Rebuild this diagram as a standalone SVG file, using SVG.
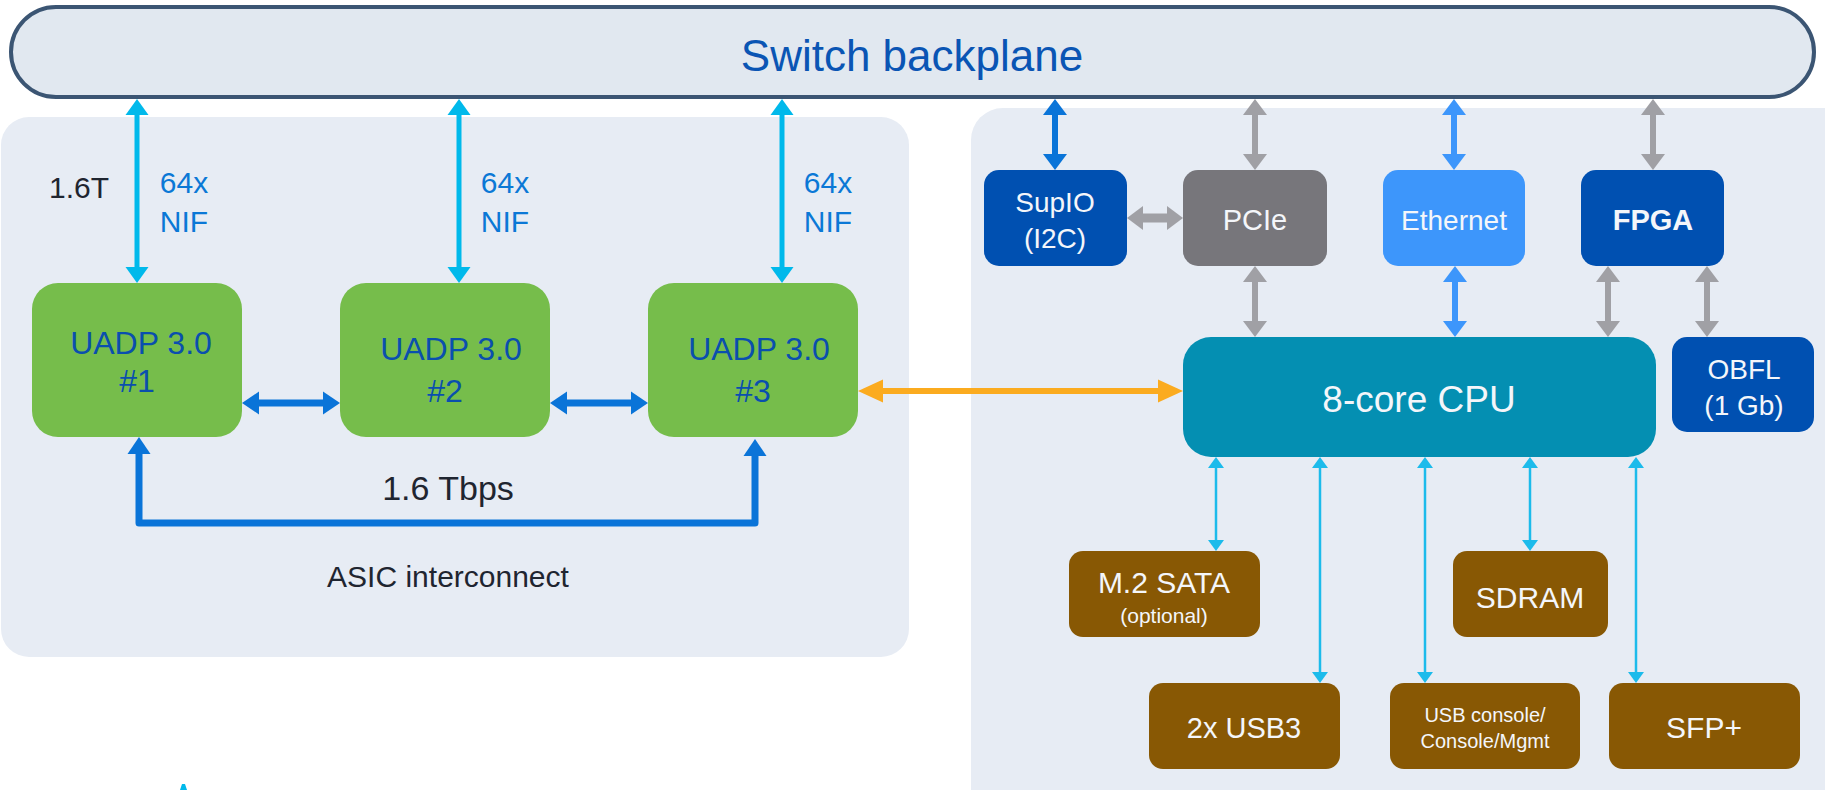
<svg xmlns="http://www.w3.org/2000/svg" width="1825" height="790" viewBox="0 0 1825 790">
<style>
text{font-family:"Liberation Sans",Arial,sans-serif;text-anchor:middle}
.panel{fill:#e7ecf4}
.uadp{fill:#76bd4b}
.uadp-t{fill:#0a4fae;font-size:32px}
.dk{fill:#0050b1}
.brown{fill:#885804}
.wt{fill:#f4f6fa}
.lbl{fill:#1f2530}
.nif{fill:#0b78d6;font-size:30px}
.c-cyan{stroke:#00b9eb;stroke-width:5;fill:none}
.c-blue{stroke:#0a74d8;stroke-width:7;fill:none;stroke-linejoin:round}
.c-blue2{stroke:#0a74d8;stroke-width:6;fill:none}
.c-gray{stroke:#a0a0a5;stroke-width:6;fill:none}
.c-grayh{stroke:#a0a0a5;stroke-width:9;fill:none}
.c-eth{stroke:#3d96fb;stroke-width:6;fill:none}
.c-orange{stroke:#fbab1f;stroke-width:6;fill:none}
.c-thin{stroke:#1cbbeb;stroke-width:2.5;fill:none}
</style>
<defs>
<marker id="aCyan" markerUnits="userSpaceOnUse" markerWidth="30" markerHeight="30" refX="0" refY="0" orient="auto-start-reverse" overflow="visible"><path d="M-1,-11.5 L15,0 L-1,11.5z" fill="#00b9eb"/></marker>
<marker id="aBlue" markerUnits="userSpaceOnUse" markerWidth="30" markerHeight="30" refX="0" refY="0" orient="auto-start-reverse" overflow="visible"><path d="M-1,-11.5 L16,0 L-1,11.5z" fill="#0a74d8"/></marker>
<marker id="aBlue2" markerUnits="userSpaceOnUse" markerWidth="30" markerHeight="30" refX="0" refY="0" orient="auto-start-reverse" overflow="visible"><path d="M-1,-12 L15,0 L-1,12z" fill="#0a74d8"/></marker>
<marker id="aGray" markerUnits="userSpaceOnUse" markerWidth="30" markerHeight="30" refX="0" refY="0" orient="auto-start-reverse" overflow="visible"><path d="M-1,-12 L15,0 L-1,12z" fill="#a0a0a5"/></marker>
<marker id="aEth" markerUnits="userSpaceOnUse" markerWidth="30" markerHeight="30" refX="0" refY="0" orient="auto-start-reverse" overflow="visible"><path d="M-1,-12 L15,0 L-1,12z" fill="#3d96fb"/></marker>
<marker id="aOrange" markerUnits="userSpaceOnUse" markerWidth="30" markerHeight="30" refX="0" refY="0" orient="auto-start-reverse" overflow="visible"><path d="M-1,-11.5 L24,0 L-1,11.5z" fill="#fbab1f"/></marker>
<marker id="aThin" markerUnits="userSpaceOnUse" markerWidth="20" markerHeight="20" refX="0" refY="0" orient="auto-start-reverse" overflow="visible"><path d="M-1,-8 L10,0 L-1,8z" fill="#1cbbeb"/></marker>
</defs>

<g id="backplane">
<rect x="11" y="7" width="1803" height="90" rx="45" fill="#e1e8f0" stroke="#3b5573" stroke-width="4"/>
<text x="912" y="71" style="font-size:44px;fill:#0a55b4">Switch backplane</text>
</g>

<g id="asic-panel">
<rect class="panel" x="1" y="117" width="908" height="540" rx="28"/>
<text class="lbl" x="79" y="198" style="font-size:30px">1.6T</text>
<text class="lbl" x="448" y="500" style="font-size:34px">1.6 Tbps</text>
<text class="lbl" x="448" y="587" style="font-size:30px">ASIC interconnect</text>
</g>

<g id="sup-panel">
<rect class="panel" x="971" y="108" width="900" height="720" rx="32"/>
</g>

<g id="connectors">
<line class="c-cyan" x1="137" y1="114" x2="137" y2="268" marker-start="url(#aCyan)" marker-end="url(#aCyan)"/>
<line class="c-cyan" x1="459" y1="114" x2="459" y2="268" marker-start="url(#aCyan)" marker-end="url(#aCyan)"/>
<line class="c-cyan" x1="782" y1="114" x2="782" y2="268" marker-start="url(#aCyan)" marker-end="url(#aCyan)"/>
<line class="c-blue" x1="258" y1="403" x2="324" y2="403" marker-start="url(#aBlue)" marker-end="url(#aBlue)"/>
<line class="c-blue" x1="566" y1="403" x2="632" y2="403" marker-start="url(#aBlue)" marker-end="url(#aBlue)"/>
<path class="c-blue" d="M139,453 V523 H755 V455" marker-start="url(#aBlue)" marker-end="url(#aBlue)"/>
<line class="c-orange" x1="882" y1="391" x2="1159" y2="391" marker-start="url(#aOrange)" marker-end="url(#aOrange)"/>
<line class="c-blue2" x1="1055" y1="114" x2="1055" y2="155" marker-start="url(#aBlue2)" marker-end="url(#aBlue2)"/>
<line class="c-gray" x1="1255" y1="114" x2="1255" y2="155" marker-start="url(#aGray)" marker-end="url(#aGray)"/>
<line class="c-eth" x1="1454" y1="114" x2="1454" y2="155" marker-start="url(#aEth)" marker-end="url(#aEth)"/>
<line class="c-gray" x1="1653" y1="114" x2="1653" y2="155" marker-start="url(#aGray)" marker-end="url(#aGray)"/>
<line class="c-grayh" x1="1142" y1="218" x2="1168" y2="218" marker-start="url(#aGray)" marker-end="url(#aGray)"/>
<line class="c-gray" x1="1255" y1="281" x2="1255" y2="322" marker-start="url(#aGray)" marker-end="url(#aGray)"/>
<line class="c-eth" x1="1455" y1="281" x2="1455" y2="322" marker-start="url(#aEth)" marker-end="url(#aEth)"/>
<line class="c-gray" x1="1608" y1="281" x2="1608" y2="322" marker-start="url(#aGray)" marker-end="url(#aGray)"/>
<line class="c-gray" x1="1707" y1="281" x2="1707" y2="322" marker-start="url(#aGray)" marker-end="url(#aGray)"/>
<line class="c-thin" x1="1216" y1="467" x2="1216" y2="541" marker-start="url(#aThin)" marker-end="url(#aThin)"/>
<line class="c-thin" x1="1320" y1="467" x2="1320" y2="673" marker-start="url(#aThin)" marker-end="url(#aThin)"/>
<line class="c-thin" x1="1425" y1="467" x2="1425" y2="673" marker-start="url(#aThin)" marker-end="url(#aThin)"/>
<line class="c-thin" x1="1530" y1="467" x2="1530" y2="541" marker-start="url(#aThin)" marker-end="url(#aThin)"/>
<line class="c-thin" x1="1636" y1="467" x2="1636" y2="673" marker-start="url(#aThin)" marker-end="url(#aThin)"/>
</g>

<g id="nif-labels">
<text class="nif" x="184" y="193">64x</text><text class="nif" x="184" y="232">NIF</text>
<text class="nif" x="505" y="193">64x</text><text class="nif" x="505" y="232">NIF</text>
<text class="nif" x="828" y="193">64x</text><text class="nif" x="828" y="232">NIF</text>
</g>

<g id="uadp1"><rect class="uadp" x="32" y="283" width="210" height="154" rx="26"/>
<text class="uadp-t" x="141" y="354">UADP 3.0</text><text class="uadp-t" x="137" y="392">#1</text></g>
<g id="uadp2"><rect class="uadp" x="340" y="283" width="210" height="154" rx="26"/>
<text class="uadp-t" x="451" y="360">UADP 3.0</text><text class="uadp-t" x="445" y="402">#2</text></g>
<g id="uadp3"><rect class="uadp" x="648" y="283" width="210" height="154" rx="26"/>
<text class="uadp-t" x="759" y="360">UADP 3.0</text><text class="uadp-t" x="753" y="402">#3</text></g>

<g id="supio"><rect class="dk" x="984" y="170" width="143" height="96" rx="15"/>
<text class="wt" x="1055" y="212" style="font-size:28px">SupIO</text><text class="wt" x="1055" y="248" style="font-size:28px">(I2C)</text></g>
<g id="pcie"><rect x="1183" y="170" width="144" height="96" rx="15" fill="#77767b"/>
<text class="wt" x="1255" y="230" style="font-size:29px">PCIe</text></g>
<g id="ethernet"><rect x="1383" y="170" width="142" height="96" rx="15" fill="#3d96fb"/>
<text class="wt" x="1454" y="230" style="font-size:28px">Ethernet</text></g>
<g id="fpga"><rect class="dk" x="1581" y="170" width="143" height="96" rx="15"/>
<text class="wt" x="1653" y="230" style="font-size:29px;font-weight:bold">FPGA</text></g>

<g id="cpu"><rect x="1183" y="337" width="473" height="120" rx="28" fill="#048fb2"/>
<text class="wt" x="1419" y="412" style="font-size:37px">8-core CPU</text></g>
<g id="obfl"><rect class="dk" x="1672" y="337" width="142" height="95" rx="15"/>
<text class="wt" x="1744" y="379" style="font-size:28px">OBFL</text><text class="wt" x="1744" y="415" style="font-size:28px">(1 Gb)</text></g>

<g id="m2sata"><rect class="brown" x="1069" y="551" width="191" height="86" rx="14"/>
<text class="wt" x="1164" y="593" style="font-size:30px">M.2 SATA</text><text class="wt" x="1164" y="623" style="font-size:21px">(optional)</text></g>
<g id="sdram"><rect class="brown" x="1453" y="551" width="155" height="86" rx="14"/>
<text class="wt" x="1530" y="608" style="font-size:30px">SDRAM</text></g>
<g id="usb3"><rect class="brown" x="1149" y="683" width="191" height="86" rx="14"/>
<text class="wt" x="1244" y="738" style="font-size:29px">2x USB3</text></g>
<g id="console"><rect class="brown" x="1390" y="683" width="190" height="86" rx="14"/>
<text class="wt" x="1485" y="722" style="font-size:20px">USB console/</text><text class="wt" x="1485" y="748" style="font-size:20px">Console/Mgmt</text></g>
<g id="sfp"><rect class="brown" x="1609" y="683" width="191" height="86" rx="14"/>
<text class="wt" x="1704" y="738" style="font-size:30px">SFP+</text></g>

<polygon points="180,790 182,784 185,784 187,790" fill="#00b9eb"/>
</svg>
